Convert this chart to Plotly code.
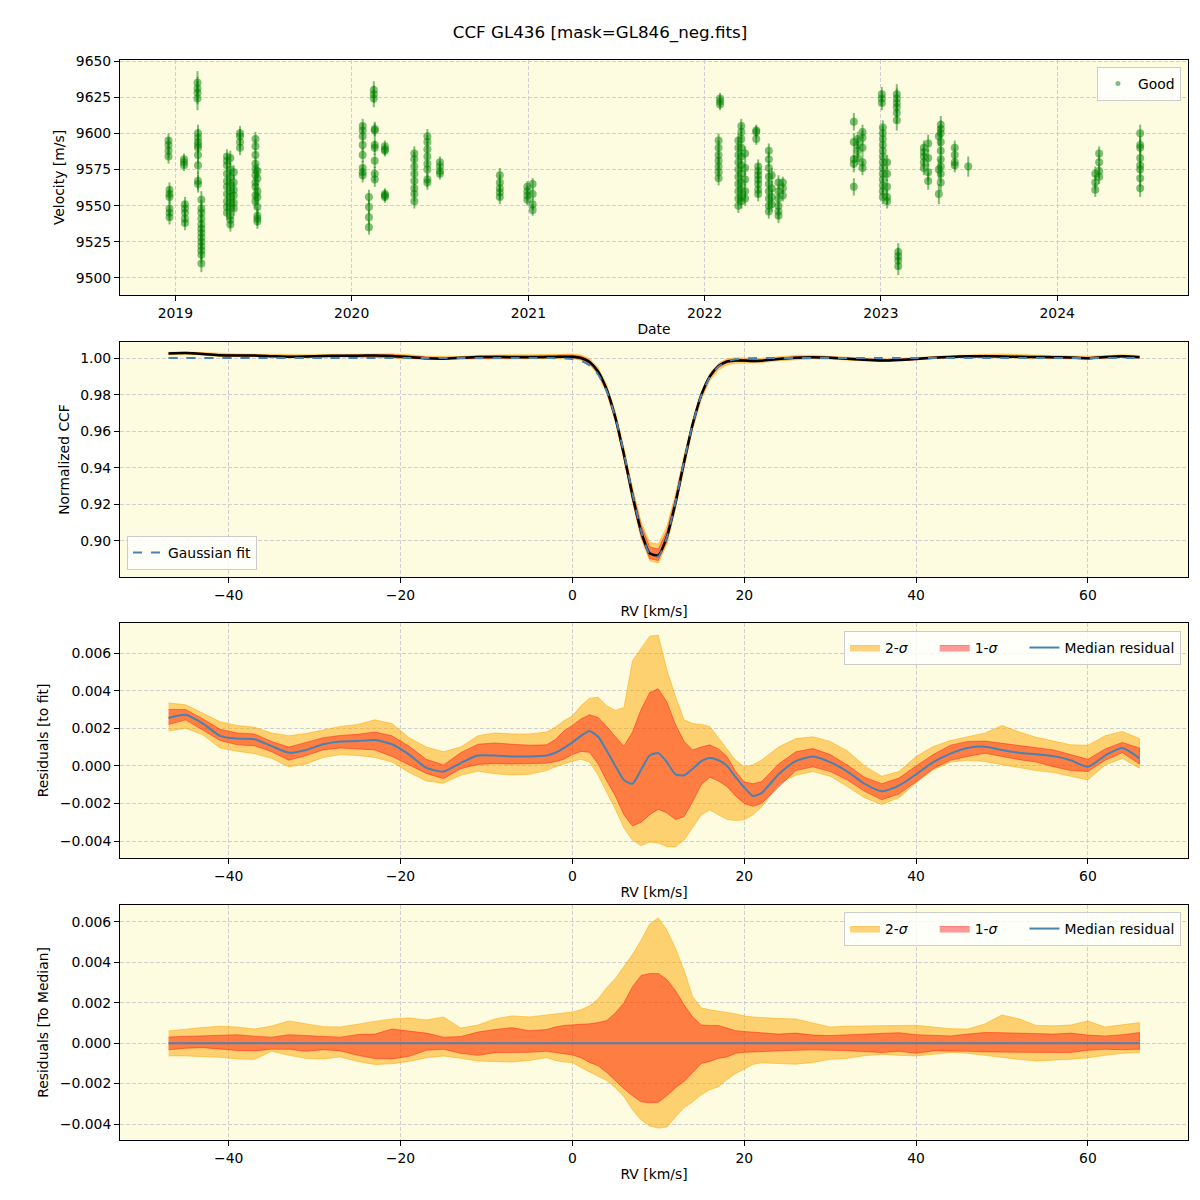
import numpy as np
import plotly.graph_objects as go

# ---------------- Panel 1: RV time series ----------------
obs_dates = ["2018-12-18", "2018-12-20", "2019-01-19", "2019-01-21", "2019-02-16", "2019-02-17",
             "2019-02-24", "2019-04-18", "2019-04-25", "2019-05-02", "2019-05-15", "2019-06-16",
             "2019-06-20", "2020-01-24", "2020-02-06", "2020-02-16", "2020-02-18", "2020-03-10",
             "2020-05-10", "2020-06-06", "2020-07-02", "2020-11-03", "2020-12-30", "2021-01-10",
             "2022-01-30", "2022-02-02", "2022-03-12", "2022-03-18", "2022-03-26", "2022-04-18",
             "2022-04-22", "2022-05-14", "2022-05-20", "2022-06-03", "2022-06-12", "2022-11-06",
             "2022-11-14", "2022-11-24", "2023-01-03", "2023-01-05", "2023-01-14", "2023-02-03",
             "2023-02-06", "2023-03-31", "2023-04-09", "2023-05-01", "2023-05-05", "2023-06-03",
             "2023-07-01", "2024-03-20", "2024-03-28", "2024-06-21"]
obs_rv = [
    [9595, 9592, 9588, 9584], [9561, 9558, 9556, 9548, 9545, 9542], [9582, 9580, 9578],
    [9551, 9548, 9545, 9541, 9538], [9635, 9631, 9628, 9624],
    [9600, 9597, 9594, 9592, 9590, 9585, 9578, 9567, 9565],
    [9554, 9548, 9545, 9541, 9537, 9534, 9531, 9528, 9525, 9522, 9519, 9516, 9510],
    [9584, 9581, 9578, 9572, 9567, 9563, 9558, 9553, 9549, 9545],
    [9583, 9575, 9570, 9565, 9560, 9556, 9552, 9548, 9543, 9540, 9537],
    [9573, 9566, 9561, 9557, 9552, 9548], [9600, 9598, 9594, 9590],
    [9596, 9591, 9585, 9579, 9575, 9571, 9566, 9563, 9557, 9553],
    [9574, 9569, 9560, 9556, 9549, 9543, 9541, 9539],
    [9605, 9602, 9598, 9592, 9585, 9576, 9573, 9571], [9556, 9549, 9542, 9535], [9630, 9627, 9624],
    [9603, 9602, 9592, 9590, 9581, 9572, 9568], [9591, 9589, 9588, 9558, 9557, 9556],
    [9586, 9582, 9577, 9572, 9567, 9562, 9558, 9553], [9598, 9594, 9589, 9584, 9579, 9575, 9568, 9566],
    [9580, 9577, 9574, 9572], [9571, 9566, 9562, 9559, 9556], [9563, 9560, 9557, 9554],
    [9565, 9558, 9551, 9547], [9595, 9590, 9585, 9581, 9577, 9573, 9569], [9624, 9622, 9620],
    [9595, 9590, 9585, 9580, 9575, 9570, 9565, 9560, 9555, 9550],
    [9605, 9601, 9596, 9590, 9584, 9578, 9572, 9566, 9561, 9556, 9553],
    [9586, 9576, 9568, 9560, 9555], [9602, 9601, 9596], [9577, 9574, 9571, 9568, 9565, 9561, 9558],
    [9588, 9582, 9576, 9570, 9565, 9560, 9555, 9550, 9546], [9571, 9562, 9556, 9551],
    [9566, 9560, 9555, 9550, 9546, 9543], [9566, 9562, 9557], [9608, 9594, 9582, 9579, 9563],
    [9596, 9592, 9588, 9583], [9601, 9597, 9590, 9580, 9576], [9627, 9624, 9621],
    [9604, 9600, 9596, 9592, 9588, 9584, 9580, 9576, 9572, 9568, 9564, 9560, 9556],
    [9580, 9572, 9563, 9556, 9553], [9627, 9624, 9621, 9618, 9614, 9609], [9518, 9515, 9512, 9508],
    [9590, 9587, 9584, 9580, 9576], [9593, 9583, 9573, 9567], [9598, 9575, 9558],
    [9606, 9603, 9600, 9594, 9588, 9582, 9577, 9572, 9566], [9590, 9585, 9580, 9578], [9577],
    [9572, 9566, 9561], [9586, 9580, 9574, 9570], [9600, 9592, 9590, 9583, 9578, 9575, 9569, 9562]]
obs_err = [5, 5, 4, 5, 8, 6, 6, 5, 5, 5, 5, 5, 5, 5, 5, 6, 5, 4, 5, 5, 4, 5, 4, 4, 5, 4,
           5, 5, 5, 4, 5, 5, 5, 5, 4, 6, 5, 5, 5, 5, 5, 7, 6, 5, 6, 7, 6, 5, 7, 5, 5, 6]

# ---------------- CCF / residual panels ----------------
rv_grid = [-47, -45, -43, -41, -39, -37, -35, -33, -31, -29, -27, -25, -23, -21, -19, -17, -15, -13, -11, -9, -7, -5, -3,
           -2, -1, 0, 1, 2, 3, 4, 5, 6, 7, 8, 9, 10, 11, 12, 13, 14, 15, 16, 17, 18, 19, 20, 21, 22,
           24, 26, 28, 30, 32, 34, 36, 38, 40, 42, 44, 46, 48, 50, 52, 54, 56, 58, 60, 62, 64, 66]

fit_ccf = [1.0, 1.0, 1.0, 1.0, 1.0, 1.0, 1.0, 1.0, 1.0, 1.0, 1.0, 1.0, 1.0, 1.0, 1.0, 1.0, 1.0, 1.0, 1.0, 1.0, 1.0, 1.0, 1.0,
           0.99995, 0.99983, 0.99945, 0.99844, 0.99604, 0.99104, 0.98193, 0.96753, 0.94800, 0.92574, 0.90548,
           0.89274, 0.89151, 0.90216, 0.92135, 0.94364, 0.96400, 0.97950, 0.98959, 0.99529, 0.99810, 0.99932,
           0.99978, 0.99994, 1.0,
           1.0, 1.0, 1.0, 1.0, 1.0, 1.0, 1.0, 1.0, 1.0, 1.0, 1.0, 1.0, 1.0, 1.0, 1.0, 1.0, 1.0, 1.0, 1.0, 1.0, 1.0, 1.0]

# residuals to fit (units of 1e-3)
p3_median = [2.55, 2.72, 2.25, 1.6, 1.45, 1.42, 1.05, 0.7, 0.85, 1.15, 1.3, 1.32, 1.38, 1.15, 0.6, -0.1, -0.3, 0.15, 0.55, 0.55, 0.5, 0.5, 0.55,
             0.7, 0.95, 1.25, 1.6, 1.85, 1.55, 0.8, 0.0, -0.75, -0.95, -0.2, 0.55, 0.68, 0.2, -0.45, -0.5, -0.15, 0.25, 0.42, 0.3, 0.0, -0.6, -1.15, -1.6, -1.45,
             -0.45, 0.25, 0.5, 0.2, -0.3, -0.95, -1.35, -1.05, -0.45, 0.2, 0.65, 0.95, 1.02, 0.85, 0.7, 0.62, 0.52, 0.3, -0.05, 0.55, 0.95, 0.4]
p3_up1 = [3.0, 3.0, 2.5, 1.95, 1.75, 1.7, 1.3, 1.0, 1.25, 1.5, 1.62, 1.68, 1.8, 1.6, 1.05, 0.35, 0.05, 0.7, 1.15, 1.22, 1.15, 1.1, 1.12,
          1.4, 1.85, 2.15, 2.5, 2.72, 2.58, 2.1, 1.56, 1.05, 1.8, 3.0, 3.9, 4.1, 3.4, 2.2, 1.3, 0.85, 1.0, 1.12, 0.9, 0.5, -0.3, -0.85, -0.95, -0.85,
          0.1, 0.75, 0.92, 0.6, 0.05, -0.6, -0.95, -0.65, 0.0, 0.6, 1.1, 1.3, 1.32, 1.2, 1.1, 1.0, 0.85, 0.6, 0.35, 0.9, 1.25, 0.95]
p3_lo1 = [2.2, 2.45, 1.9, 1.35, 1.12, 1.07, 0.75, 0.3, 0.55, 0.85, 0.95, 0.9, 0.85, 0.5, 0.05, -0.4, -0.68, -0.15, 0.08, 0.12, 0.1, 0.1, 0.14,
          0.22, 0.35, 0.6, 0.77, 0.72, 0.1, -0.8, -1.6, -2.6, -3.2, -3.0, -2.6, -2.3, -2.5, -2.85, -2.7, -1.9, -1.0, -0.6, -0.8, -1.1, -1.6, -2.0, -2.15, -2.0,
          -1.1, -0.25, -0.05, -0.3, -0.75, -1.35, -1.8, -1.5, -0.85, -0.15, 0.3, 0.5, 0.67, 0.5, 0.33, 0.2, -0.04, -0.25, -0.3, 0.3, 0.7, 0.1]
p3_up2 = [3.35, 3.25, 2.8, 2.35, 2.15, 2.05, 1.75, 1.6, 1.72, 1.9, 2.1, 2.2, 2.45, 2.25, 1.5, 1.0, 0.75, 1.0, 1.6, 1.75, 1.7, 1.7, 1.8,
          2.05, 2.4, 2.65, 3.2, 3.6, 3.65, 3.2, 2.95, 3.1, 5.6, 6.25, 6.9, 6.95, 5.1, 3.7, 2.45, 2.25, 2.2, 2.1, 1.5, 0.9, 0.3, -0.04, 0.05, 0.3,
          1.0, 1.45, 1.55, 1.3, 0.8, 0.0, -0.55, -0.3, 0.5, 1.03, 1.35, 1.55, 1.74, 2.15, 1.8, 1.52, 1.3, 1.12, 1.1, 1.6, 1.83, 1.45]
p3_lo2 = [1.85, 2.0, 1.65, 0.95, 0.78, 0.65, 0.4, -0.05, 0.1, 0.45, 0.6, 0.55, 0.45, 0.2, -0.35, -0.8, -0.92, -0.5, -0.28, -0.42, -0.48, -0.45, -0.25,
          -0.05, 0.12, 0.25, 0.35, 0.2, -0.5, -1.4, -2.3, -3.3, -3.95, -4.25, -4.05, -4.1, -4.3, -4.3, -3.95, -3.3, -2.6, -2.35, -2.6, -2.85, -2.9, -2.87, -2.6, -2.2,
          -0.95, -0.5, -0.3, -0.55, -1.1, -1.7, -2.05, -1.7, -0.9, -0.2, 0.2, 0.3, 0.23, 0.05, -0.1, -0.25, -0.35, -0.55, -0.75, 0.05, 0.4, -0.12]

# residuals to median (units of 1e-3)
p4_up1 = [0.31, 0.33, 0.36, 0.4, 0.42, 0.35, 0.3, 0.42, 0.38, 0.33, 0.3, 0.43, 0.45, 0.7, 0.6, 0.5, 0.3, 0.33, 0.55, 0.68, 0.77, 0.62, 0.68,
          0.8, 0.88, 0.92, 0.94, 0.96, 1.02, 1.12, 1.5, 2.0, 2.8, 3.35, 3.45, 3.45, 3.15, 2.6, 1.9, 1.3, 0.9, 0.88, 0.88, 0.75, 0.62, 0.58, 0.55, 0.5,
          0.45, 0.5, 0.4, 0.38, 0.42, 0.45, 0.48, 0.52, 0.42, 0.38, 0.36, 0.45, 0.53, 0.52, 0.5, 0.46, 0.45, 0.5, 0.4, 0.36, 0.42, 0.53]
p4_lo1 = [-0.33, -0.25, -0.22, -0.3, -0.36, -0.38, -0.3, -0.3, -0.4, -0.32, -0.38, -0.6, -0.76, -0.78, -0.65, -0.35, -0.3, -0.5, -0.6, -0.47, -0.46, -0.45, -0.4,
          -0.45, -0.52, -0.58, -0.72, -0.95, -1.12, -1.45, -1.85, -2.25, -2.6, -2.9, -2.95, -2.92, -2.6, -2.2, -1.9, -1.45, -1.0, -0.9, -0.75, -0.68, -0.5, -0.45, -0.44, -0.42,
          -0.38, -0.35, -0.33, -0.35, -0.37, -0.4, -0.46, -0.4, -0.5, -0.38, -0.38, -0.4, -0.43, -0.44, -0.46, -0.46, -0.46, -0.46, -0.35, -0.3, -0.32, -0.3]
p4_up2 = [0.61, 0.7, 0.78, 0.84, 0.8, 0.7, 0.85, 1.1, 0.95, 0.82, 0.8, 0.95, 1.08, 1.2, 1.25, 1.15, 1.3, 0.75, 0.9, 1.2, 1.35, 1.3, 1.4,
          1.45, 1.5, 1.55, 1.65, 1.85, 2.2, 2.75, 3.2, 3.8, 4.4, 5.1, 5.9, 6.2, 5.6, 4.7, 3.6, 2.3, 1.75, 1.65, 1.6, 1.52, 1.45, 1.35, 1.3, 1.27,
          1.22, 1.2, 1.0, 0.8, 0.84, 0.86, 0.88, 0.88, 0.89, 0.8, 0.72, 0.7, 0.95, 1.4, 1.2, 0.88, 0.86, 0.9, 1.1, 0.8, 0.9, 1.02]
p4_lo2 = [-0.63, -0.63, -0.65, -0.7, -0.78, -0.8, -0.4, -0.6, -0.75, -0.78, -0.68, -0.9, -1.05, -1.02, -0.9, -0.72, -0.63, -0.75, -0.88, -0.9, -0.93, -0.85, -0.72,
          -0.85, -0.93, -0.96, -1.2, -1.42, -1.65, -1.85, -2.2, -2.65, -3.3, -3.8, -4.1, -4.2, -4.15, -3.65, -3.2, -2.9, -2.55, -2.3, -2.15, -1.8, -1.5, -1.29, -1.05, -0.97,
          -1.0, -1.04, -0.95, -0.8, -0.75, -0.62, -0.55, -0.6, -0.63, -0.55, -0.46, -0.5, -0.62, -0.71, -0.8, -0.88, -0.85, -0.79, -0.72, -0.6, -0.5, -0.46]

# ---------------- derived arrays ----------------
dates_flat, rv_flat, err_flat = [], [], []
for d, vals, e in zip(obs_dates, obs_rv, obs_err):
    for v in vals:
        dates_flat.append(d)
        rv_flat.append(v)
        err_flat.append(e)

rv = np.array(rv_grid, dtype=float)
fit = np.array(fit_ccf)
s = 1e-3
med3 = np.array(p3_median) * s
ccf = fit + med3

FONT = "DejaVu Sans"
FS = 13.9
C2 = "rgba(255,165,0,0.5)"
C1 = "rgba(255,0,0,0.4)"
BLUE = "#4682b4"
GREEN = "rgba(0,128,0,0.5)"
PAD = "\u00a0" * 5

fig = go.Figure()

# Panel 1
fig.add_trace(go.Scatter(
    x=dates_flat, y=rv_flat, mode="markers", name="Good", showlegend=False,
    marker=dict(size=8, color=GREEN, line=dict(width=0)),
    error_y=dict(type="data", array=err_flat, visible=True, color=GREEN, thickness=2, width=0),
    xaxis="x", yaxis="y"))
# legend entry (smaller marker, as in the original legend)
fig.add_trace(go.Scatter(x=[None], y=[None], mode="markers", name="Good",
                         marker=dict(size=5, color=GREEN), xaxis="x", yaxis="y", legend="legend"))


def band(xv, up, lo, color, name, xa, ya, legend, showlegend):
    xx = list(xv) + list(xv[::-1])
    yy = list(up) + list(lo[::-1])
    return go.Scatter(x=xx, y=yy, fill="toself", fillcolor=color, mode="lines",
                      line=dict(color=color, width=1), name=name, xaxis=xa, yaxis=ya,
                      legend=legend, showlegend=showlegend, hoverinfo="skip")


# Panel 2
fig.add_trace(band(rv, ccf + np.array(p4_up2) * s, ccf + np.array(p4_lo2) * s, C2, "2σ", "x2", "y2", "legend2", False))
fig.add_trace(band(rv, ccf + np.array(p4_up1) * s, ccf + np.array(p4_lo1) * s, C1, "1σ", "x2", "y2", "legend2", False))
fig.add_trace(go.Scatter(x=rv, y=ccf, mode="lines", line=dict(color="black", width=2.5, shape="spline", smoothing=0.6),
                         showlegend=False, xaxis="x2", yaxis="y2"))
fig.add_trace(go.Scatter(x=rv, y=fit, mode="lines", name="Gaussian fit",
                         line=dict(color=BLUE, width=2, dash="dash", shape="spline", smoothing=0.6),
                         xaxis="x2", yaxis="y2", legend="legend2"))

# Panel 3
fig.add_trace(band(rv, np.array(p3_up2) * s, np.array(p3_lo2) * s, C2, "2-<i>σ</i>" + PAD, "x3", "y3", "legend3", True))
fig.add_trace(band(rv, np.array(p3_up1) * s, np.array(p3_lo1) * s, C1, "1-<i>σ</i>" + PAD, "x3", "y3", "legend3", True))
fig.add_trace(go.Scatter(x=rv, y=med3, mode="lines", name="Median residual",
                         line=dict(color=BLUE, width=2, shape="spline", smoothing=0.6),
                         xaxis="x3", yaxis="y3", legend="legend3"))

# Panel 4
p4_median = [0.0] * len(rv_grid)
fig.add_trace(band(rv, np.array(p4_up2) * s, np.array(p4_lo2) * s, C2, "2-<i>σ</i>" + PAD, "x4", "y4", "legend4", True))
fig.add_trace(band(rv, np.array(p4_up1) * s, np.array(p4_lo1) * s, C1, "1-<i>σ</i>" + PAD, "x4", "y4", "legend4", True))
fig.add_trace(go.Scatter(x=rv, y=p4_median, mode="lines", name="Median residual",
                         line=dict(color=BLUE, width=2), xaxis="x4", yaxis="y4", legend="legend4"))

ax = dict(showline=True, linecolor="black", linewidth=1, mirror=True, ticks="outside", ticklen=5,
          tickwidth=1, tickcolor="black", showgrid=True, gridcolor="#cfcfcf", griddash="4px,2px",
          gridwidth=1, zeroline=False, tickfont=dict(size=FS, color="black", family=FONT))


def xt(text):
    return dict(text=text, font=dict(size=FS, color="black", family=FONT), standoff=4)


def yt(text):
    return dict(text=text, font=dict(size=FS, color="black", family=FONT), standoff=7)


XR = [-52.65, 71.65]
leg = dict(bgcolor="rgba(255,255,255,0.8)", bordercolor="#cccccc", borderwidth=1,
           font=dict(size=FS, color="black", family=FONT))

W = 1192  # page body has an 8px margin
fig.update_layout(
    width=W, height=W,
    margin=dict(l=112, r=12, t=52, b=60),
    paper_bgcolor="white", plot_bgcolor="#fdfce1",
    font=dict(family=FONT, size=FS, color="black"),
    title=dict(text="CCF GL436 [mask=GL846_neg.fits]", x=592 / W, xref="container", xanchor="center",
               y=1 - 24 / W, yref="container", yanchor="middle",
               font=dict(size=16.7, color="black", family=FONT)),
    xaxis=dict(ax, domain=[0, 1], type="date", range=["2018-09-08 12:00", "2024-09-28"],
               dtick="M12", tick0="2019-01-01", tickformat="%Y", anchor="y", title=xt("Date")),
    yaxis=dict(ax, domain=[0.7824, 1.0], range=[9488.2, 9650.7], dtick=25, tick0=9500,
               anchor="x", title=yt("Velocity [m/s]")),
    xaxis2=dict(ax, domain=[0, 1], range=XR, dtick=20, tick0=0, anchor="y2", title=xt("RV [km/s]")),
    yaxis2=dict(ax, domain=[0.5213, 0.7389], range=[0.8803, 1.0088], dtick=0.02, tick0=0.9,
                tickformat=".2f", anchor="x2", title=yt("Normalized CCF")),
    xaxis3=dict(ax, domain=[0, 1], range=XR, dtick=20, tick0=0, anchor="y3", title=xt("RV [km/s]")),
    yaxis3=dict(ax, domain=[0.2611, 0.4787], range=[-0.0049, 0.0076], dtick=0.002, tick0=0,
                tickformat=".3f", anchor="x3", title=yt("Residuals [to fit]")),
    xaxis4=dict(ax, domain=[0, 1], range=XR, dtick=20, tick0=0, anchor="y4", title=xt("RV [km/s]")),
    yaxis4=dict(ax, domain=[0.0, 0.2176], range=[-0.00479, 0.00684], dtick=0.002, tick0=0,
                tickformat=".3f", anchor="x4", title=yt("Residuals [To Median]")),
    legend=dict(leg, x=0.9934, y=0.9935, xanchor="right", yanchor="top"),
    legend2=dict(leg, x=0.0066, y=0.5278, xanchor="left", yanchor="bottom"),
    legend3=dict(leg, x=0.9934, y=0.4713, xanchor="right", yanchor="top", orientation="h"),
    legend4=dict(leg, x=0.9934, y=0.2111, xanchor="right", yanchor="top", orientation="h"),
    showlegend=True,
)

fig.write_html("out.html")
